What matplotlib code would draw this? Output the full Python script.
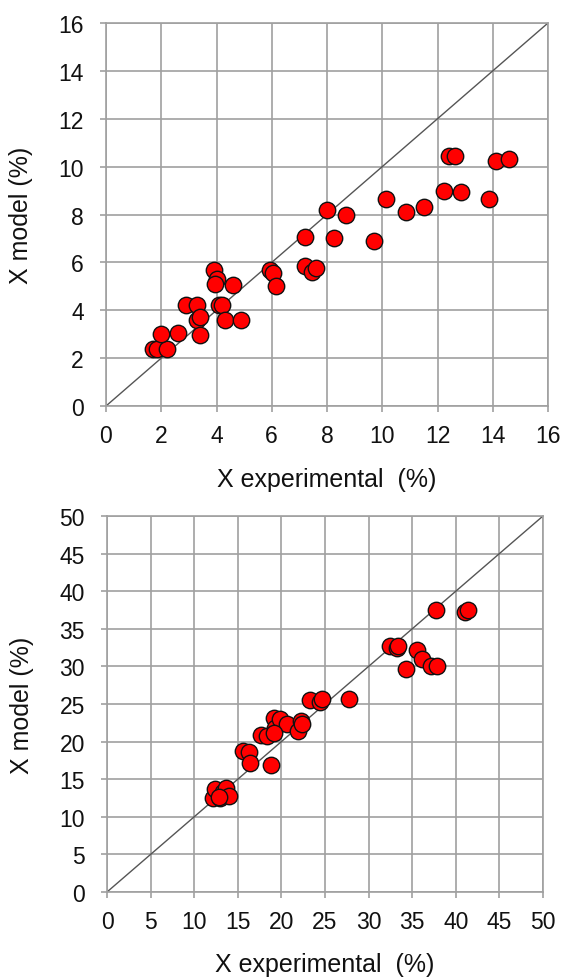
import matplotlib

matplotlib.use("Agg")
import matplotlib.pyplot as plt

plt.rcParams["font.family"] = ["Liberation Sans", "DejaVu Sans"]

# top panel: small conversion range
top_x_exp = [1.7, 1.85, 2.2, 2.0, 2.6, 2.9, 3.3, 3.3, 3.4, 3.4, 3.9, 4.0, 3.95, 4.1, 4.2,
             4.3, 4.6, 4.9, 5.95, 6.05, 6.15, 7.2, 7.2, 7.45, 7.6, 8.0, 8.25, 8.7, 9.7,
             10.15, 10.85, 11.5, 12.25, 12.4, 12.65, 12.85, 13.85, 14.1, 14.6]
top_x_model = [2.4, 2.4, 2.4, 3.0, 3.05, 4.2, 4.2, 3.6, 3.7, 2.95, 5.7, 5.3, 5.1, 4.2, 4.2,
               3.6, 5.05, 3.6, 5.7, 5.55, 5.0, 7.05, 5.85, 5.6, 5.78, 8.2, 7.0, 8.0, 6.9,
               8.65, 8.1, 8.3, 9.0, 10.45, 10.45, 8.95, 8.65, 10.25, 10.3]
top_ticks = [0, 2, 4, 6, 8, 10, 12, 14, 16]

# bottom panel: wide conversion range
bottom_x_exp = [12.15, 12.4, 13.0, 13.3, 13.7, 14.0, 12.8, 15.65, 16.25, 16.4, 17.7, 18.3,
                18.8, 19.2, 19.3, 19.85, 20.6, 21.9, 22.2, 22.4, 19.2, 23.3, 24.4, 24.6,
                27.8, 32.4, 33.2, 33.4, 35.6, 36.1, 37.1, 37.9, 34.3, 37.7, 41.0, 41.4]
bottom_x_model = [12.55, 13.75, 12.5, 13.3, 13.8, 12.7, 12.6, 18.75, 18.6, 17.2, 20.9, 20.8,
                  16.85, 23.2, 21.8, 23.0, 22.3, 21.4, 22.7, 22.3, 21.2, 25.5, 25.3, 25.6,
                  25.6, 32.7, 32.5, 32.7, 32.2, 31.0, 30.1, 30.1, 29.7, 37.5, 37.3, 37.5]
bottom_ticks = [0, 5, 10, 15, 20, 25, 30, 35, 40, 45, 50]

W, H = 563, 978
fig = plt.figure(figsize=(W / 100, H / 100), dpi=100)


def panel(rect, xs, ys, ticks):
    ax = fig.add_axes(rect)
    lim = ticks[-1]
    ax.set_xlim(0, lim)
    ax.set_ylim(0, lim)
    ax.set_xticks(ticks)
    ax.set_yticks(ticks)
    ax.grid(True, color="#a0a0a0", linewidth=1.2)
    ax.set_axisbelow(True)
    for spine in ax.spines.values():
        spine.set_color("#a0a0a0")
        spine.set_linewidth(1.2)
    ax.tick_params(direction="out", length=4, width=1.2, color="#a0a0a0",
                   labelsize=16.5, labelcolor="#111111")
    ax.tick_params(axis="x", pad=9)
    ax.tick_params(axis="y", pad=12)
    ax.plot([0, lim], [0, lim], color="#555555", linewidth=1.0, zorder=2)
    ax.scatter(xs, ys, s=140, facecolor="#ff0000", edgecolor="#111111",
               linewidth=1.0, zorder=3, clip_on=False)
    ax.set_xlabel("X experimental  (%)", fontsize=18, color="#111111", labelpad=14)
    ax.set_ylabel("X model (%)", fontsize=18, color="#111111", labelpad=18)
    return ax


panel([106 / W, 1 - 407 / H, 442 / W, 383 / H], top_x_exp, top_x_model, top_ticks)
panel([107 / W, 1 - 893 / H, 436 / W, 376 / H], bottom_x_exp, bottom_x_model, bottom_ticks)

fig.savefig("out.png", dpi=100, facecolor="white")
